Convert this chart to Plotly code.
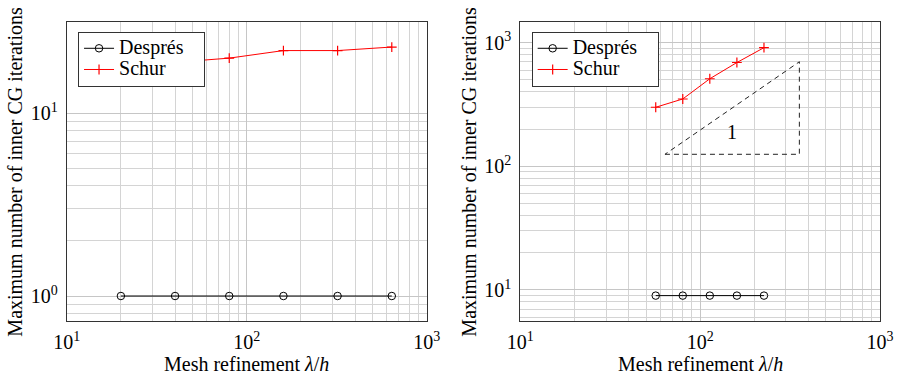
import math
import plotly.graph_objects as go

# Left panel: iteration counts vs. mesh refinement
left_h = [20, 40, 80, 160, 320, 640]
left_despres = [1, 1, 1, 1, 1, 1]
left_schur = [18, 19, 20, 22, 22, 23]

# Right panel
right_h = [56.6, 80, 113.1, 160, 226.3]
right_despres = [9, 9, 9, 9, 9]
right_schur = [300, 350, 510, 690, 910]

# Slope-1 reference triangle (closed path) and its label
tri_x = [63.7, 356, 356, 63.7]
tri_y = [125, 125, 700, 125]
tri_label = "1"
tri_label_pos = (150, 190)

x_ticks = [10, 100, 1000]
x_ticktext = ["10<sup>1</sup>", "10<sup>2</sup>", "10<sup>3</sup>"]
left_y_ticks = [1, 10]
left_y_ticktext = ["10<sup>0</sup>", "10<sup>1</sup>"]
right_y_ticks = [10, 100, 1000]
right_y_ticktext = ["10<sup>1</sup>", "10<sup>2</sup>", "10<sup>3</sup>"]

series_names = ["Després", "Schur"]

X_TITLE = "Mesh refinement <i>λ</i>/<i>h</i>"
Y_TITLE = "Maximum number of inner CG iterations"

FONT = "Liberation Serif"
FS = 20
LEG_FS = 20
GRID = "#c6c6c6"
MINOR = "#d4d4d4"
FRAME = "#333333"

W, H = 899, 375
left_dom = [0.0742, 0.4746]
right_dom = [0.5788, 0.9789]
y_dom = [0.144, 0.9405]

def legend_label(name):
    # larger glyphs on a compact legend row, with some right padding
    return f"<span style='font-size:{LEG_FS}px'>{name}&nbsp;&nbsp;&nbsp;</span>"

fig = go.Figure()

def add_series(x, yd, ys, xa, ya, leg):
    fig.add_trace(go.Scatter(
        x=x, y=yd, mode="lines+markers", name=legend_label(series_names[0]),
        line=dict(color="black", width=1),
        marker=dict(symbol="circle-open", size=7.5, color="black", line=dict(width=1)),
        xaxis=xa, yaxis=ya, legend=leg))
    fig.add_trace(go.Scatter(
        x=x, y=ys, mode="lines+markers", name=legend_label(series_names[1]),
        line=dict(color="red", width=1),
        marker=dict(symbol="cross-thin-open", size=7, color="red", line=dict(width=1.2, color="red")),
        xaxis=xa, yaxis=ya, legend=leg))

add_series(left_h, left_despres, left_schur, "x", "y", "legend")
add_series(right_h, right_despres, right_schur, "x2", "y2", "legend2")

fig.add_trace(go.Scatter(
    x=tri_x, y=tri_y, mode="lines", showlegend=False,
    line=dict(color="#222222", width=1, dash="5px,4px"),
    xaxis="x2", yaxis="y2", hoverinfo="skip"))

fig.add_annotation(
    x=math.log10(tri_label_pos[0]), y=math.log10(tri_label_pos[1]),
    xref="x2", yref="y2", text=tri_label, showarrow=False,
    font=dict(family=FONT, size=FS, color="black"))

# Axis titles placed as paper annotations
for dom, ytx in ((left_dom, 15 / W), (right_dom, 469 / W)):
    fig.add_annotation(
        x=(dom[0] + dom[1]) / 2, y=1 - 364 / H, xref="paper", yref="paper",
        text=X_TITLE, showarrow=False, xanchor="center", yanchor="middle",
        font=dict(family=FONT, size=FS, color="black"))
    fig.add_annotation(
        x=ytx, y=(y_dom[0] + y_dom[1]) / 2, xref="paper", yref="paper",
        text=Y_TITLE, showarrow=False, textangle=-90,
        xanchor="center", yanchor="middle",
        font=dict(family=FONT, size=FS, color="black"))

decade_minor = [m * 10 ** e for e in (1, 2) for m in range(2, 10)]
left_y_minor = [0.8, 0.9] + [m for m in range(2, 10)]
right_y_minor = [6, 7, 8, 9] + [m * 10 ** e for e in (1, 2) for m in range(2, 10)]

def xaxis_cfg(domain, anchor):
    return dict(
        type="log", range=[1, 3], domain=domain, anchor=anchor,
        automargin=False,
        tickmode="array", tickvals=x_ticks, ticktext=x_ticktext,
        showgrid=True, gridcolor=GRID, gridwidth=1,
        minor=dict(tickmode="array", tickvals=decade_minor, showgrid=True,
                   gridcolor=MINOR, gridwidth=1, ticks=""),
        showline=True, linecolor=FRAME, linewidth=1, mirror=True,
        ticks="", ticklabelstandoff=3, zeroline=False,
        tickfont=dict(family=FONT, size=FS, color="black"))

def yaxis_cfg(rng, ticks, ticktext, minor_vals, anchor):
    return dict(
        type="log", range=rng, domain=y_dom, anchor=anchor,
        automargin=False,
        tickmode="array", tickvals=ticks, ticktext=ticktext,
        showgrid=True, gridcolor=GRID, gridwidth=1,
        minor=dict(tickmode="array", tickvals=minor_vals, showgrid=True,
                   gridcolor=MINOR, gridwidth=1, ticks=""),
        showline=True, linecolor=FRAME, linewidth=1, mirror=True,
        ticks="", ticklabelstandoff=4, zeroline=False,
        tickfont=dict(family=FONT, size=FS, color="black"))

legend_style = dict(
    xref="paper", yref="paper", xanchor="left", yanchor="top",
    bgcolor="white", bordercolor=FRAME, borderwidth=1,
    font=dict(family=FONT, size=14, color="black"),
    tracegroupgap=0, itemwidth=30)

fig.update_layout(
    width=W, height=H,
    margin=dict(l=0, r=0, t=0, b=0),
    paper_bgcolor="white", plot_bgcolor="white",
    font=dict(family=FONT, size=FS, color="black"),
    xaxis=xaxis_cfg(left_dom, "y"),
    xaxis2=xaxis_cfg(right_dom, "y2"),
    yaxis=yaxis_cfg([math.log10(0.73), math.log10(31.4)], left_y_ticks,
                    left_y_ticktext, left_y_minor, "x"),
    yaxis2=yaxis_cfg([0.749, 3.164], right_y_ticks, right_y_ticktext,
                     right_y_minor, "x2"),
    legend=dict(**legend_style, x=0.0868, y=0.9155),
    legend2=dict(**legend_style, x=0.5914, y=0.9155),
    showlegend=True,
)

fig.write_html("out.html")
